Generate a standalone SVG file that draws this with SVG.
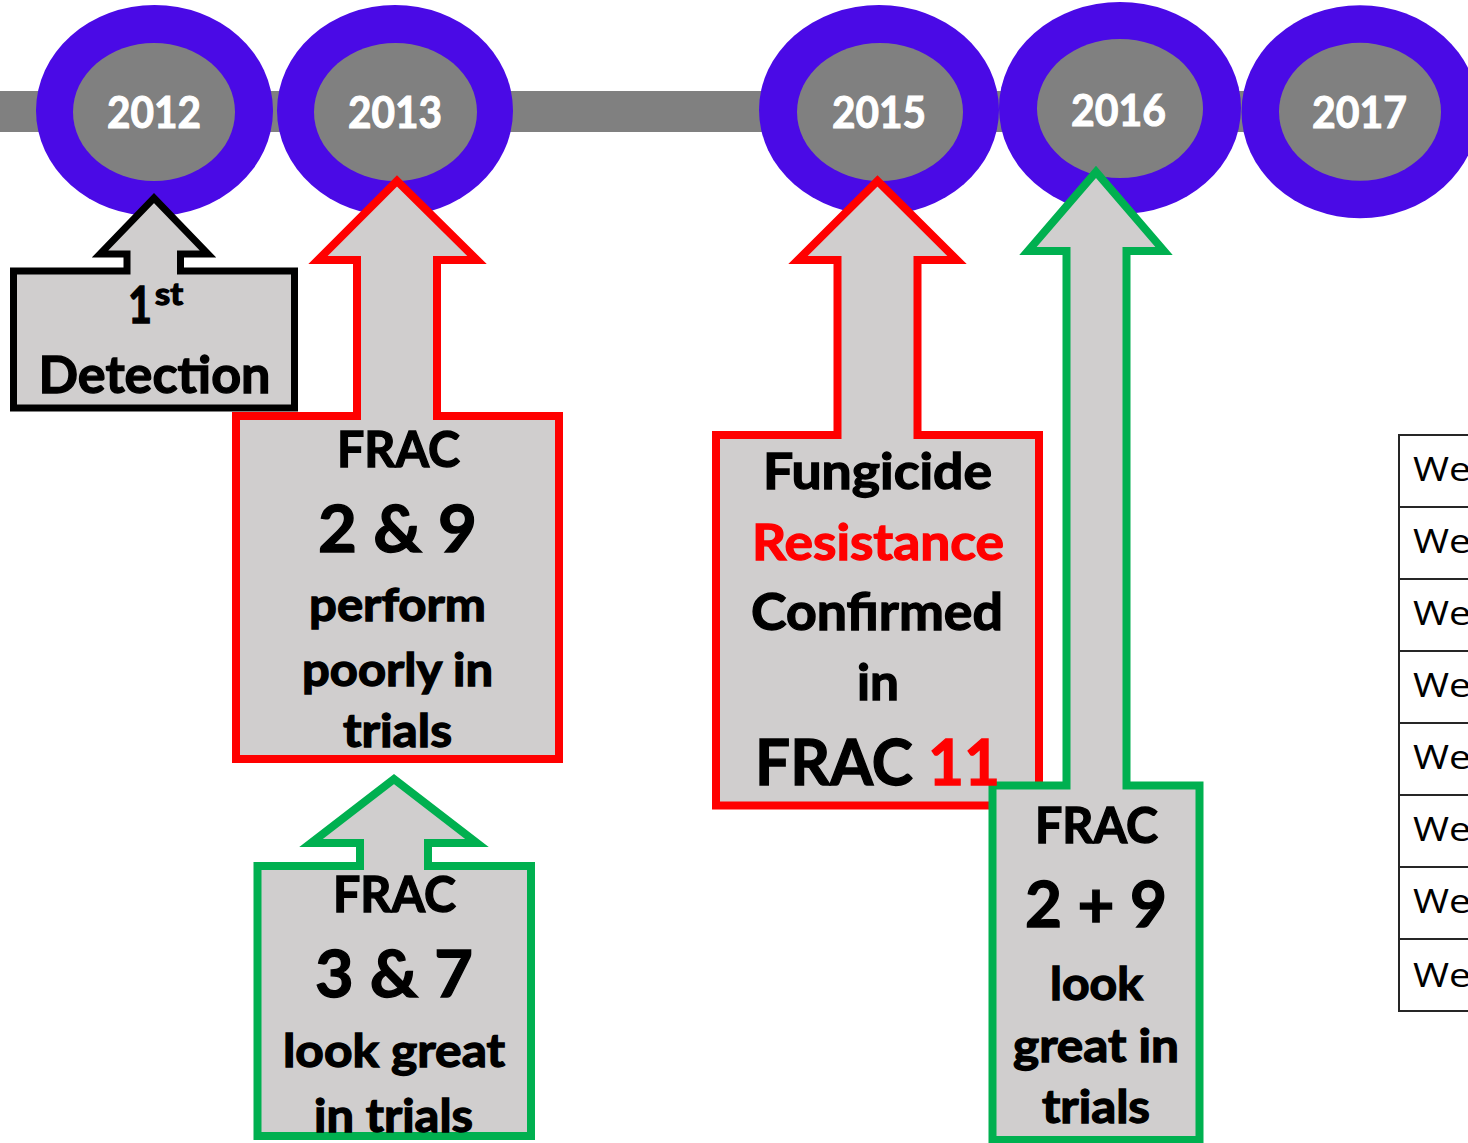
<svg xmlns="http://www.w3.org/2000/svg" width="1468" height="1143" viewBox="0 0 1468 1143">
  <style>
    .ring { fill: #4A0AE6; }
    .hub { fill: #808080; }
    .year { font-family: Lato, "Open Sans", "Liberation Sans", sans-serif; font-weight: 700; font-size: 44px; fill: #FFFFFF; stroke: #FFFFFF; stroke-width: 1; }
    .callout { fill: #D0CECE; stroke-linejoin: miter; stroke-miterlimit: 10; }
    .black { stroke: #000000; stroke-width: 7; }
    .red { stroke: #FF0000; stroke-width: 8; }
    .green { stroke: #00B050; stroke-width: 8; }
    .lbl { font-family: Lato, "Open Sans", "Liberation Sans", sans-serif; font-weight: 700; fill: #000000; stroke: #000000; stroke-width: 1.3; }
    .hot { fill: #FF0000; stroke: #FF0000; }
    .cell { font-family: "Open Sans", "Noto Sans", "Liberation Sans", sans-serif; font-size: 33px; fill: #000000; }
    .grid { fill: none; stroke: #262626; stroke-width: 2; }
  </style>

  <!-- timeline rail -->
  <g id="connectors">
    <rect x="0" y="91" width="1468" height="41" fill="#808080"/>
  </g>

  <!-- year markers -->
  <g id="year-2012">
    <ellipse class="ring" cx="154.5" cy="110.5" rx="118.5" ry="105.5"/>
    <ellipse class="hub" cx="154" cy="112" rx="81" ry="69"/>
    <text class="year" x="107" y="128" textLength="94" lengthAdjust="spacingAndGlyphs">2012</text>
  </g>
  <g id="year-2013">
    <ellipse class="ring" cx="395" cy="110.5" rx="118" ry="105.5"/>
    <ellipse class="hub" cx="395.5" cy="112" rx="81.5" ry="69"/>
    <text class="year" x="348" y="128" textLength="94" lengthAdjust="spacingAndGlyphs">2013</text>
  </g>
  <g id="year-2015">
    <ellipse class="ring" cx="879" cy="110" rx="120" ry="105"/>
    <ellipse class="hub" cx="880" cy="112" rx="83" ry="69"/>
    <text class="year" x="832" y="128" textLength="94" lengthAdjust="spacingAndGlyphs">2015</text>
  </g>
  <g id="year-2016">
    <ellipse class="ring" cx="1120" cy="108" rx="121" ry="106"/>
    <ellipse class="hub" cx="1120" cy="108.5" rx="83" ry="69.5"/>
    <text class="year" x="1071" y="125.5" textLength="95" lengthAdjust="spacingAndGlyphs">2016</text>
  </g>
  <g id="year-2017">
    <ellipse class="ring" cx="1360" cy="111.7" rx="118.5" ry="106.5"/>
    <ellipse class="hub" cx="1360" cy="111.8" rx="81" ry="69"/>
    <text class="year" x="1312" y="128" textLength="95" lengthAdjust="spacingAndGlyphs">2017</text>
  </g>

  <!-- up-arrow callouts -->
  <g id="callout-first-detection">
    <path class="callout black" d="M 13.5,271 H 127 V 254 H 100 L 154,198 L 208,254 H 180.5 V 271 H 294.5 V 408 H 13.5 Z"/>
    <text class="lbl" x="128" y="323" font-size="51" textLength="24" lengthAdjust="spacingAndGlyphs">1</text>
    <text class="lbl" x="155" y="305" font-size="30" textLength="28" lengthAdjust="spacingAndGlyphs">st</text>
    <text class="lbl" x="38.5" y="393" font-size="51" textLength="232" lengthAdjust="spacingAndGlyphs">Detection</text>
  </g>

  <g id="callout-frac-2-9-poor">
    <path class="callout red" d="M 236,416 H 357 V 260 H 318 L 397,181 L 477,260 H 437 V 416 H 559 V 759 H 236 Z"/>
    <text class="lbl" x="337" y="467" font-size="49" textLength="123" lengthAdjust="spacingAndGlyphs">FRAC</text>
    <text class="lbl" x="318" y="552" font-size="65" textLength="159" lengthAdjust="spacingAndGlyphs">2 &amp; 9</text>
    <text class="lbl" x="309" y="621" font-size="45" textLength="177" lengthAdjust="spacingAndGlyphs">perform</text>
    <text class="lbl" x="302" y="686" font-size="45" textLength="191" lengthAdjust="spacingAndGlyphs">poorly in</text>
    <text class="lbl" x="343" y="747" font-size="45" textLength="109" lengthAdjust="spacingAndGlyphs">trials</text>
  </g>

  <g id="callout-frac-3-7">
    <path class="callout green" d="M 257.5,866 H 360 V 843 H 311 L 394,779 L 477,843 H 428 V 866 H 531 V 1136 H 257.5 Z"/>
    <text class="lbl" x="333" y="912" font-size="49" textLength="123" lengthAdjust="spacingAndGlyphs">FRAC</text>
    <text class="lbl" x="315" y="997" font-size="65" textLength="158" lengthAdjust="spacingAndGlyphs">3 &amp; 7</text>
    <text class="lbl" x="283" y="1067" font-size="45" textLength="222" lengthAdjust="spacingAndGlyphs">look great</text>
    <text class="lbl" x="314" y="1132" font-size="45" textLength="159" lengthAdjust="spacingAndGlyphs">in trials</text>
  </g>

  <g id="callout-resistance">
    <path class="callout red" d="M 716,435 H 837.5 V 260 H 798 L 877.5,181 L 957,260 H 917.5 V 435 H 1039 V 805.5 H 716 Z"/>
    <text class="lbl" x="763" y="489" font-size="50" textLength="229" lengthAdjust="spacingAndGlyphs">Fungicide</text>
    <text class="lbl hot" x="752" y="560" font-size="50" textLength="252" lengthAdjust="spacingAndGlyphs">Resistance</text>
    <text class="lbl" x="751" y="630" font-size="51" textLength="252" lengthAdjust="spacingAndGlyphs">Confirmed</text>
    <text class="lbl" x="857" y="700" font-size="50" textLength="42" lengthAdjust="spacingAndGlyphs">in</text>
  </g>

  <g id="callout-frac-2-9-great">
    <path class="callout green" d="M 992.5,785.5 H 1066.5 V 251 H 1028 L 1096,172 L 1164,251 H 1126.5 V 785.5 H 1199.5 V 1140 H 992.5 Z"/>
    <text class="lbl" x="1035" y="843" font-size="49" textLength="123" lengthAdjust="spacingAndGlyphs">FRAC</text>
    <text class="lbl" x="1025" y="927" font-size="63" textLength="142" lengthAdjust="spacingAndGlyphs">2 + 9</text>
    <text class="lbl" x="1050" y="1000" font-size="45" textLength="93" lengthAdjust="spacingAndGlyphs">look</text>
    <text class="lbl" x="1013" y="1062" font-size="45" textLength="166" lengthAdjust="spacingAndGlyphs">great in</text>
    <text class="lbl" x="1042" y="1123" font-size="45" textLength="108" lengthAdjust="spacingAndGlyphs">trials</text>
  </g>

  <!-- last line of the resistance callout sits above the neighbouring box -->
  <g id="callout-resistance-frac">
    <text class="lbl" x="755" y="785" font-size="63" textLength="245" lengthAdjust="spacingAndGlyphs">FRAC <tspan class="hot">11</tspan></text>
  </g>

  <!-- side table, clipped at the page edge -->
  <g id="week-table">
    <rect class="grid" x="1399" y="435" width="120" height="576"/>
    <path class="grid" d="M 1399,507 H 1470 M 1399,579 H 1470 M 1399,651 H 1470 M 1399,723 H 1470 M 1399,795 H 1470 M 1399,867 H 1470 M 1399,939 H 1470"/>
    <text class="cell" x="1413" y="481" textLength="58" lengthAdjust="spacingAndGlyphs">We</text>
    <text class="cell" x="1413" y="553" textLength="58" lengthAdjust="spacingAndGlyphs">We</text>
    <text class="cell" x="1413" y="625" textLength="58" lengthAdjust="spacingAndGlyphs">We</text>
    <text class="cell" x="1413" y="697" textLength="58" lengthAdjust="spacingAndGlyphs">We</text>
    <text class="cell" x="1413" y="769" textLength="58" lengthAdjust="spacingAndGlyphs">We</text>
    <text class="cell" x="1413" y="841" textLength="58" lengthAdjust="spacingAndGlyphs">We</text>
    <text class="cell" x="1413" y="913" textLength="58" lengthAdjust="spacingAndGlyphs">We</text>
    <text class="cell" x="1413" y="987" textLength="58" lengthAdjust="spacingAndGlyphs">We</text>
  </g>
</svg>
